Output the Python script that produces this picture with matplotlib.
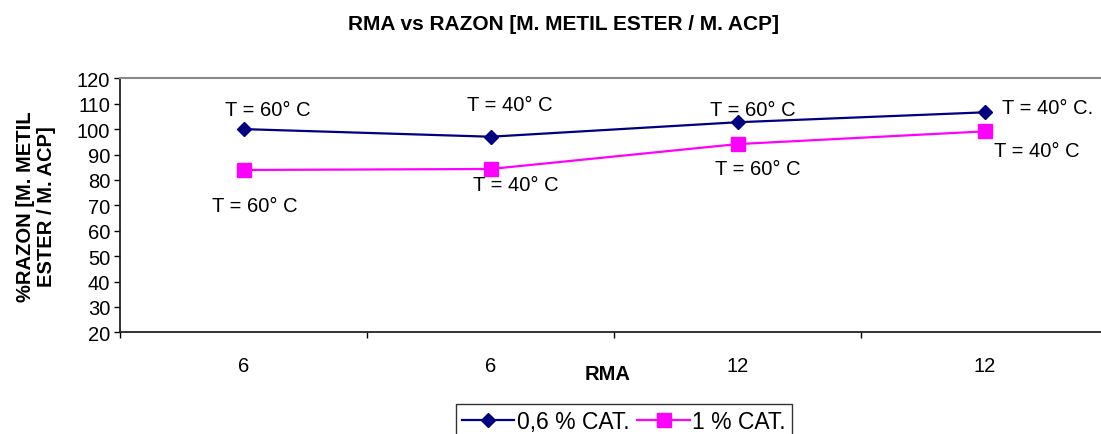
import numpy as np
import matplotlib
matplotlib.use("Agg")
import matplotlib.pyplot as plt

plt.rcParams['font.family'] = ['Liberation Sans', 'DejaVu Sans']

# data
rma_labels = ['6', '6', '12', '12']
cat_06 = [100.0, 97.0, 102.7, 106.6]
cat_1 = [83.9, 84.3, 94.1, 99.1]
temps_06 = ['T = 60° C', 'T = 40° C', 'T = 60° C', 'T = 40° C.']
temps_1 = ['T = 60° C', 'T = 40° C', 'T = 60° C', 'T = 40° C']
series_names = ['0,6 % CAT.', '1 % CAT.']

# label offsets in pixels (dx, dy) relative to each point
offs_06 = [(24, 20), (19, 32), (15, 13), (63, 5)]
offs_1 = [(11, -36), (25, -16), (20, -24), (52, -19)]

fs = 14.5

fig = plt.figure(figsize=(11.01, 4.35), dpi=100)
ax = fig.add_axes([120 / 1101, (435 - 333.3) / 435, 988 / 1101, 254 / 435])

x = np.arange(len(rma_labels))
ax.plot(x, cat_06, color='#000080', lw=1.6, marker='D', ms=7, label=series_names[0])
ax.plot(x, cat_1, color='#FF00FF', lw=1.6, marker='s', ms=10.5, label=series_names[1])

for xi, yi, t, o in zip(x, cat_06, temps_06, offs_06):
    ax.annotate(t, (xi, yi), xytext=o, textcoords='offset pixels',
                ha='center', va='center', fontsize=fs)
for xi, yi, t, o in zip(x, cat_1, temps_1, offs_1):
    ax.annotate(t, (xi, yi), xytext=o, textcoords='offset pixels',
                ha='center', va='center', fontsize=fs)

ax.set_xlim(-0.5, len(rma_labels) - 0.5)
ax.set_ylim(20, 120)
ax.set_yticks(np.arange(20, 121, 10))
ax.set_xticks(x)
ax.set_xticklabels(rma_labels)
ax.set_xticks(np.arange(-0.5, len(rma_labels), 1.0), minor=True)
ax.tick_params(axis='x', which='major', length=0, pad=17, labelsize=fs)
ax.tick_params(axis='x', which='minor', length=4, width=1, direction='out')
ax.tick_params(axis='y', length=4, width=1, direction='out', pad=3, labelsize=fs)

for s in ['left', 'bottom']:
    ax.spines[s].set_color('#222222')
    ax.spines[s].set_linewidth(1.3)
for s in ['top', 'right']:
    ax.spines[s].set_color('#888888')
    ax.spines[s].set_linewidth(1.5)

ax.set_xlabel('RMA', fontsize=fs, fontweight='bold', va='center')
ax.xaxis.set_label_coords((608 - 120) / 988, -(375 - 333.3) / 254)
ax.set_ylabel('%RAZON [M. METIL\nESTER / M. ACP]', fontsize=fs, fontweight='bold',
              va='center', linespacing=1.15)
ax.yaxis.set_label_coords(-(120 - 36) / 988, 0.5)

fig.text(563 / 1101, 1 - 25 / 435, 'RMA vs RAZON [M. METIL ESTER / M. ACP]',
         ha='center', va='center', fontsize=15, fontweight='bold')

leg = ax.legend(loc='upper left', bbox_to_anchor=(456 / 1101, 1 - 405 / 435),
                bbox_transform=fig.transFigure, ncol=2, fontsize=16.5, frameon=True,
                fancybox=False, handlelength=2.3, handletextpad=0.1, columnspacing=0.35,
                borderpad=0.25, borderaxespad=0)
leg.get_frame().set_edgecolor('black')
leg.get_frame().set_linewidth(1.0)

fig.savefig('out.png', dpi=100)
